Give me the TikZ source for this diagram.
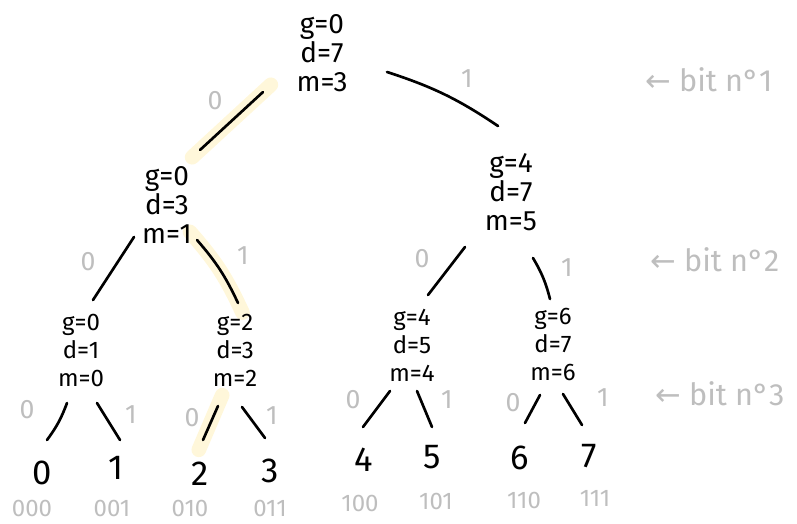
\documentclass[tikz,border=0pt]{standalone}
\usepackage{fontspec}
\setmainfont{Fira Sans}
\newfontfamily\symfont{DejaVu Sans}
\usetikzlibrary{backgrounds}
\definecolor{pale}{RGB}{190,190,190}
\definecolor{hilite}{RGB}{255,247,218}
\begin{document}
\begin{tikzpicture}[x=0.75pt,y=-0.75pt,
  inode/.style={align=center, inner sep=0pt, font=\fontsize{21}{22}\selectfont},
  snode/.style={align=center, inner sep=0pt, font=\fontsize{18}{21}\selectfont},
  leaf/.style={inner sep=0pt, font=\fontsize{26}{26}\selectfont},
  lbl/.style={pale, inner sep=0pt, font=\fontsize{20}{20}\selectfont},
  code/.style={pale, inner sep=0pt, font=\fontsize{18}{18}\selectfont},
  bitlbl/.style={pale, inner sep=0pt, anchor=base west, font=\fontsize{23}{23}\selectfont},
  edge/.style={line width=2pt, line cap=round},
  hl/.style={hilite, line width=11pt, line cap=round, shorten <=-8pt, shorten >=-8pt}]
\useasboundingbox (0,0) rectangle (797,524);

% internal nodes
\node[inode] (root) at (322,53) {g=0\\d=7\\m=3};
\node[inode] (L1) at (167,205) {g=0\\d=3\\m=1};
\node[inode] (R1) at (511,192) {g=4\\d=7\\m=5};
\node[snode] (A) at (81,350) {g=0\\d=1\\m=0};
\node[snode] (B) at (235,350) {g=2\\d=3\\m=2};
\node[snode] (C) at (412,345) {g=4\\d=5\\m=4};
\node[snode] (D) at (553,344) {g=6\\d=7\\m=6};

% leaves
\node[leaf] (l0) at (42,473) {0};
\node[leaf] (l1) at (116,468) {1};
\node[leaf] (l2) at (200,474) {2};
\node[leaf] (l3) at (270,471) {3};
\node[leaf] (l4) at (364,460) {4};
\node[leaf] (l5) at (432,457) {5};
\node[leaf] (l6) at (520,458) {6};
\node[leaf] (l7) at (589,456) {7};

% binary codes
\node[code] (c0) at (32,508) {000};
\node[code] (c1) at (112,508) {001};
\node[code] (c2) at (190,508) {010};
\node[code] (c3) at (270,508) {011};
\node[code] (c4) at (360,503) {100};
\node[code] (c5) at (436,501) {101};
\node[code] (c6) at (524,500) {110};
\node[code] (c7) at (595,498) {111};

% edge labels
\node[lbl] (e1) at (215,101) {0};
\node[lbl] (e2) at (467,79) {1};
\node[lbl] (e3) at (88,262) {0};
\node[lbl] (e4) at (243,256) {1};
\node[lbl] (e5) at (422,259) {0};
\node[lbl] (e6) at (567,268) {1};
\node[lbl] (e7) at (27,410) {0};
\node[lbl] (e8) at (131,415) {1};
\node[lbl] (e9) at (192,418) {0};
\node[lbl] (e10) at (272,416) {1};
\node[lbl] (e11) at (353,400) {0};
\node[lbl] (e12) at (447,400) {1};
\node[lbl] (e13) at (513,403) {0};
\node[lbl] (e14) at (603,398) {1};

% bit labels
\node[bitlbl] (b1) at (645,92) {{\symfont ←} bit n°1};
\node[bitlbl] (b2) at (650,272) {{\symfont ←} bit n°2};
\node[bitlbl] (b3) at (655,406) {{\symfont ←} bit n°3};

% highlighted path (behind)
\begin{scope}[on background layer]
\draw[hl] ([shift={(-59,39)}]root.center) -- ([shift={(33,-55)}]L1.center);
\draw[hl] ([shift={(30,35)}]L1.center) to[bend left=8] ([shift={(3,-47)}]B.center);
\draw[hl] ([shift={(-17,55)}]B.center) -- ([shift={(3,-34)}]l2.center);
\end{scope}

% connectors
\draw[edge] ([shift={(-59,39)}]root.center) -- ([shift={(33,-55)}]L1.center);
\draw[edge] ([shift={(65,19)}]root.center) to[bend left=8] ([shift={(-13,-66)}]R1.center);
\draw[edge] ([shift={(-33,32)}]L1.center) -- ([shift={(12,-50)}]A.center);
\draw[edge] ([shift={(30,35)}]L1.center) to[bend left=8] ([shift={(3,-47)}]B.center);
\draw[edge] ([shift={(-46,55)}]R1.center) -- ([shift={(16,-50)}]C.center);
\draw[edge] ([shift={(22,66)}]R1.center) to[bend left=8] ([shift={(-3,-45)}]D.center);

\draw[edge] ([shift={(-14,53)}]A.center) to[bend left=8] ([shift={(5,-33)}]l0.center);
\draw[edge] ([shift={(16,53)}]A.center) -- ([shift={(4,-28)}]l1.center);
\draw[edge] ([shift={(-17,56)}]B.center) -- ([shift={(3,-34)}]l2.center);
\draw[edge] ([shift={(7,57)}]B.center) -- ([shift={(-5,-33)}]l3.center);
\draw[edge] ([shift={(-22,46)}]C.center) -- ([shift={(-1,-33)}]l4.center);
\draw[edge] ([shift={(5,46)}]C.center) -- ([shift={(0,-30)}]l5.center);
\draw[edge] ([shift={(-13,51)}]D.center) -- ([shift={(5,-35)}]l6.center);
\draw[edge] ([shift={(10,50)}]D.center) -- ([shift={(-7,-31)}]l7.center);
\end{tikzpicture}
\end{document}
